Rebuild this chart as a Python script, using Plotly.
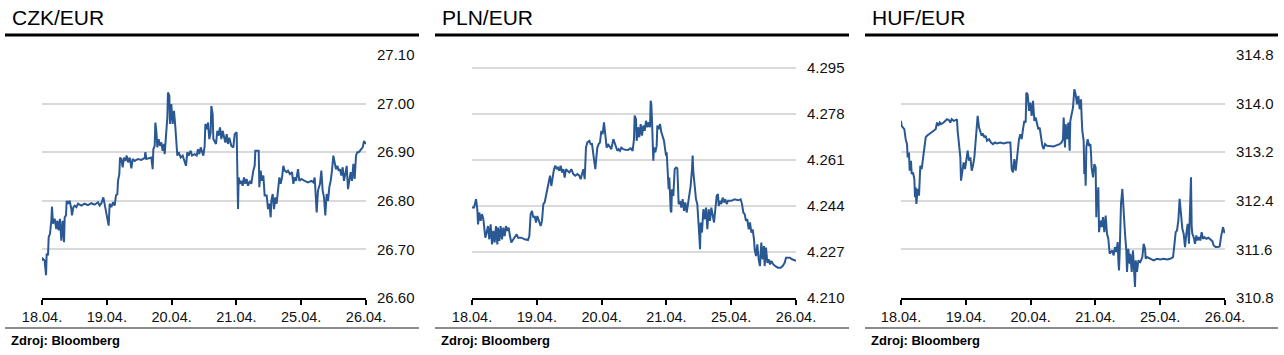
import plotly.graph_objects as go

# ---------------- data ----------------
day_labels = ["18.04.", "19.04.", "20.04.", "21.04.", "25.04.", "26.04."]
titles = ["CZK/EUR", "PLN/EUR", "HUF/EUR"]
source_text = "Zdroj: Bloomberg"

czk_x = [0.000, 0.010, 0.041, 0.062, 0.072, 0.093, 0.103, 0.123, 0.144, 0.154, 0.170, 0.195, 0.221, 0.237, 0.257,
         0.278, 0.298, 0.319, 0.340, 0.350, 0.370, 0.381, 0.401, 0.427, 0.453, 0.463, 0.484, 0.504, 0.530, 0.556,
         0.607, 0.658, 0.710, 0.761, 0.813, 0.864, 0.890, 0.916, 0.947, 0.967, 0.988, 1.008, 1.029, 1.044, 1.070,
         1.096, 1.121, 1.142, 1.163, 1.173, 1.193, 1.204, 1.224, 1.245, 1.265, 1.286, 1.307, 1.327, 1.353, 1.379,
         1.399, 1.430, 1.481, 1.533, 1.584, 1.595, 1.610, 1.687, 1.708, 1.718, 1.739, 1.749, 1.764, 1.780, 1.800,
         1.821, 1.842, 1.862, 1.883, 1.893, 1.914, 1.934, 1.944, 1.965, 1.975, 1.996, 2.016, 2.037, 2.058, 2.078,
         2.088, 2.109, 2.140, 2.171, 2.202, 2.222, 2.243, 2.263, 2.294, 2.315, 2.356, 2.387, 2.407, 2.428, 2.449,
         2.469, 2.490, 2.510, 2.521, 2.541, 2.562, 2.582, 2.603, 2.613, 2.634, 2.644, 2.665, 2.685, 2.706, 2.726,
         2.747, 2.767, 2.788, 2.809, 2.829, 2.850, 2.870, 2.891, 2.922, 2.953, 2.973, 3.004, 3.014, 3.025, 3.035,
         3.056, 3.076, 3.097, 3.117, 3.138, 3.158, 3.179, 3.210, 3.230, 3.261, 3.282, 3.292, 3.323, 3.344, 3.354,
         3.374, 3.395, 3.416, 3.436, 3.467, 3.488, 3.508, 3.529, 3.539, 3.560, 3.580, 3.601, 3.621, 3.642, 3.663,
         3.683, 3.704, 3.724, 3.745, 3.776, 3.796, 3.827, 3.858, 3.879, 3.899, 3.920, 3.951, 3.971, 4.002, 4.053,
         4.105, 4.156, 4.187, 4.208, 4.228, 4.239, 4.259, 4.290, 4.311, 4.331, 4.352, 4.372, 4.393, 4.414, 4.434,
         4.455, 4.475, 4.496, 4.516, 4.537, 4.558, 4.578, 4.599, 4.619, 4.640, 4.660, 4.681, 4.702, 4.722, 4.743,
         4.763, 4.784, 4.805, 4.825, 4.846, 4.866, 4.887, 4.907, 4.928, 4.949, 4.969, 4.990, 5.000]
czk_y = [26.677, 26.681, 26.677, 26.647, 26.691, 26.688, 26.725, 26.732, 26.759, 26.788, 26.753, 26.763, 26.742, 26.759, 26.739,
         26.763, 26.718, 26.759, 26.715, 26.766, 26.770, 26.800, 26.794, 26.800, 26.783, 26.770, 26.787, 26.790, 26.787, 26.794,
         26.790, 26.794, 26.791, 26.795, 26.792, 26.797, 26.790, 26.795, 26.807, 26.794, 26.773, 26.763, 26.749, 26.794, 26.787,
         26.797, 26.790, 26.811, 26.814, 26.841, 26.855, 26.889, 26.886, 26.869, 26.889, 26.882, 26.893, 26.879, 26.889, 26.867,
         26.886, 26.882, 26.886, 26.884, 26.888, 26.900, 26.886, 26.889, 26.865, 26.906, 26.913, 26.961, 26.944, 26.910, 26.927,
         26.913, 26.920, 26.903, 26.917, 26.896, 26.927, 26.971, 27.023, 27.016, 26.958, 26.999, 26.958, 26.985, 26.951, 26.920,
         26.893, 26.900, 26.889, 26.893, 26.882, 26.872, 26.900, 26.893, 26.903, 26.893, 26.896, 26.893, 26.906, 26.896, 26.910,
         26.900, 26.893, 26.913, 26.958, 26.947, 26.961, 26.927, 26.941, 26.995, 26.978, 26.927, 26.923, 26.917, 26.944, 26.934,
         26.951, 26.927, 26.944, 26.934, 26.920, 26.937, 26.917, 26.930, 26.913, 26.910, 26.937, 26.941, 26.838, 26.783, 26.848,
         26.835, 26.841, 26.831, 26.848, 26.835, 26.845, 26.831, 26.841, 26.835, 26.862, 26.872, 26.903, 26.903, 26.903, 26.828,
         26.862, 26.841, 26.852, 26.811, 26.811, 26.783, 26.794, 26.766, 26.800, 26.814, 26.783, 26.807, 26.794, 26.821, 26.848,
         26.835, 26.848, 26.872, 26.862, 26.859, 26.862, 26.855, 26.859, 26.835, 26.848, 26.841, 26.865, 26.841, 26.845, 26.841,
         26.838, 26.841, 26.838, 26.848, 26.807, 26.776, 26.821, 26.835, 26.862, 26.821, 26.807, 26.770, 26.814, 26.800, 26.828,
         26.841, 26.862, 26.893, 26.879, 26.865, 26.872, 26.862, 26.865, 26.852, 26.869, 26.841, 26.855, 26.872, 26.824, 26.848,
         26.859, 26.841, 26.876, 26.845, 26.893, 26.900, 26.900, 26.903, 26.906, 26.910, 26.923, 26.917, 26.917]

pln_x = [0.000, 0.031, 0.062, 0.082, 0.093, 0.113, 0.134, 0.154, 0.175, 0.195, 0.206, 0.226, 0.247, 0.267, 0.288,
         0.309, 0.329, 0.350, 0.370, 0.391, 0.401, 0.422, 0.442, 0.463, 0.484, 0.504, 0.525, 0.545, 0.566, 0.586,
         0.607, 0.638, 0.669, 0.689, 0.710, 0.761, 0.813, 0.864, 0.885, 0.905, 0.926, 0.947, 0.967, 0.988, 1.008,
         1.039, 1.060, 1.080, 1.101, 1.121, 1.142, 1.163, 1.183, 1.204, 1.224, 1.245, 1.265, 1.286, 1.307, 1.327,
         1.348, 1.368, 1.389, 1.409, 1.430, 1.450, 1.471, 1.502, 1.533, 1.564, 1.595, 1.626, 1.656, 1.677, 1.698,
         1.718, 1.739, 1.759, 1.780, 1.811, 1.831, 1.852, 1.872, 1.893, 1.903, 1.914, 1.934, 1.955, 1.975, 1.996,
         2.016, 2.037, 2.058, 2.078, 2.099, 2.130, 2.150, 2.181, 2.202, 2.222, 2.243, 2.263, 2.284, 2.305, 2.335,
         2.366, 2.407, 2.449, 2.479, 2.500, 2.510, 2.531, 2.541, 2.562, 2.582, 2.603, 2.623, 2.644, 2.665, 2.685,
         2.706, 2.726, 2.747, 2.757, 2.767, 2.778, 2.788, 2.798, 2.809, 2.829, 2.850, 2.860, 2.881, 2.901, 2.922,
         2.942, 2.963, 2.984, 2.994, 3.004, 3.014, 3.025, 3.035, 3.045, 3.056, 3.066, 3.076, 3.086, 3.107, 3.128,
         3.148, 3.169, 3.179, 3.189, 3.210, 3.230, 3.251, 3.272, 3.292, 3.313, 3.333, 3.354, 3.374, 3.395, 3.405,
         3.416, 3.436, 3.457, 3.477, 3.488, 3.498, 3.508, 3.519, 3.529, 3.549, 3.570, 3.591, 3.611, 3.632, 3.652,
         3.673, 3.693, 3.714, 3.735, 3.755, 3.776, 3.796, 3.807, 3.827, 3.848, 3.868, 3.889, 3.909, 3.930, 3.951,
         4.002, 4.053, 4.105, 4.146, 4.167, 4.187, 4.208, 4.228, 4.249, 4.270, 4.290, 4.311, 4.331, 4.352, 4.362,
         4.383, 4.403, 4.424, 4.444, 4.465, 4.486, 4.506, 4.516, 4.537, 4.558, 4.578, 4.599, 4.619, 4.650, 4.681,
         4.722, 4.763, 4.794, 4.825, 4.846, 4.877, 4.907, 4.938, 4.969, 5.000]
pln_y = [4.2434, 4.2434, 4.2465, 4.2428, 4.2372, 4.2416, 4.2385, 4.2410, 4.2391, 4.2354, 4.2323, 4.2342, 4.2366, 4.2317, 4.2372,
         4.2298, 4.2348, 4.2305, 4.2366, 4.2298, 4.2360, 4.2311, 4.2366, 4.2317, 4.2360, 4.2329, 4.2366, 4.2348, 4.2360, 4.2329,
         4.2305, 4.2317, 4.2329, 4.2335, 4.2323, 4.2323, 4.2317, 4.2314, 4.2329, 4.2410, 4.2422, 4.2397, 4.2403, 4.2379, 4.2403,
         4.2385, 4.2366, 4.2385, 4.2447, 4.2453, 4.2477, 4.2502, 4.2533, 4.2552, 4.2514, 4.2545, 4.2576, 4.2589, 4.2576, 4.2582,
         4.2570, 4.2589, 4.2564, 4.2576, 4.2545, 4.2576, 4.2570, 4.2564, 4.2576, 4.2558, 4.2552, 4.2558, 4.2552, 4.2539, 4.2558,
         4.2576, 4.2539, 4.2656, 4.2675, 4.2681, 4.2669, 4.2669, 4.2632, 4.2589, 4.2576, 4.2607, 4.2656, 4.2669, 4.2675, 4.2718,
         4.2706, 4.2749, 4.2700, 4.2656, 4.2669, 4.2656, 4.2650, 4.2687, 4.2669, 4.2656, 4.2644, 4.2650, 4.2644, 4.2656, 4.2650,
         4.2648, 4.2647, 4.2653, 4.2644, 4.2687, 4.2774, 4.2761, 4.2681, 4.2731, 4.2694, 4.2743, 4.2700, 4.2737, 4.2718, 4.2755,
         4.2731, 4.2749, 4.2731, 4.2829, 4.2817, 4.2755, 4.2687, 4.2607, 4.2656, 4.2638, 4.2663, 4.2737, 4.2724, 4.2743, 4.2712,
         4.2700, 4.2681, 4.2644, 4.2626, 4.2638, 4.2595, 4.2514, 4.2502, 4.2545, 4.2465, 4.2422, 4.2416, 4.2502, 4.2477, 4.2576,
         4.2582, 4.2579, 4.2514, 4.2447, 4.2459, 4.2434, 4.2465, 4.2422, 4.2453, 4.2416, 4.2447, 4.2477, 4.2514, 4.2576, 4.2626,
         4.2564, 4.2514, 4.2465, 4.2447, 4.2379, 4.2366, 4.2329, 4.2280, 4.2379, 4.2342, 4.2428, 4.2391, 4.2434, 4.2354, 4.2428,
         4.2385, 4.2434, 4.2403, 4.2379, 4.2428, 4.2477, 4.2484, 4.2440, 4.2459, 4.2447, 4.2471, 4.2453, 4.2465, 4.2447, 4.2459,
         4.2459, 4.2465, 4.2461, 4.2465, 4.2447, 4.2416, 4.2410, 4.2385, 4.2391, 4.2354, 4.2379, 4.2342, 4.2354, 4.2317, 4.2280,
         4.2255, 4.2298, 4.2243, 4.2218, 4.2305, 4.2243, 4.2292, 4.2218, 4.2286, 4.2230, 4.2243, 4.2224, 4.2237, 4.2224, 4.2218,
         4.2212, 4.2212, 4.2218, 4.2230, 4.2249, 4.2249, 4.2249, 4.2243, 4.2240, 4.2237]

huf_x = [0.000, 0.010, 0.031, 0.051, 0.072, 0.093, 0.103, 0.123, 0.134, 0.154, 0.165, 0.185, 0.206, 0.216, 0.226,
         0.237, 0.257, 0.278, 0.288, 0.298, 0.319, 0.340, 0.360, 0.381, 0.401, 0.432, 0.473, 0.504, 0.535, 0.556,
         0.576, 0.597, 0.617, 0.658, 0.689, 0.710, 0.741, 0.761, 0.782, 0.813, 0.844, 0.864, 0.874, 0.895, 0.916,
         0.926, 0.947, 0.967, 0.988, 1.008, 1.029, 1.049, 1.070, 1.091, 1.111, 1.132, 1.152, 1.173, 1.183, 1.204,
         1.224, 1.245, 1.265, 1.286, 1.307, 1.327, 1.358, 1.389, 1.420, 1.451, 1.481, 1.533, 1.584, 1.636, 1.687,
         1.708, 1.728, 1.749, 1.770, 1.790, 1.800, 1.821, 1.842, 1.862, 1.883, 1.903, 1.924, 1.934, 1.955, 1.975,
         1.996, 2.016, 2.037, 2.058, 2.078, 2.099, 2.119, 2.140, 2.160, 2.181, 2.202, 2.222, 2.253, 2.305, 2.356,
         2.407, 2.449, 2.479, 2.500, 2.510, 2.531, 2.541, 2.562, 2.582, 2.603, 2.613, 2.634, 2.654, 2.675, 2.695,
         2.716, 2.737, 2.757, 2.778, 2.788, 2.798, 2.819, 2.829, 2.840, 2.850, 2.860, 2.881, 2.901, 2.922, 2.932,
         2.942, 2.963, 2.984, 3.004, 3.014, 3.025, 3.035, 3.045, 3.056, 3.076, 3.097, 3.117, 3.138, 3.158, 3.179,
         3.199, 3.220, 3.240, 3.261, 3.282, 3.302, 3.323, 3.344, 3.354, 3.364, 3.374, 3.395, 3.416, 3.436, 3.457,
         3.477, 3.488, 3.508, 3.529, 3.539, 3.560, 3.580, 3.591, 3.611, 3.622, 3.642, 3.663, 3.693, 3.724, 3.745,
         3.766, 3.776, 3.796, 3.848, 3.899, 3.951, 4.002, 4.053, 4.105, 4.156, 4.198, 4.218, 4.239, 4.259, 4.280,
         4.300, 4.321, 4.342, 4.362, 4.383, 4.403, 4.424, 4.444, 4.465, 4.475, 4.486, 4.496, 4.516, 4.537, 4.558,
         4.578, 4.599, 4.619, 4.640, 4.660, 4.681, 4.712, 4.743, 4.774, 4.805, 4.825, 4.856, 4.887, 4.918, 4.938,
         4.959, 4.969, 4.990, 5.000]
huf_y = [313.716, 313.634, 313.606, 313.579, 313.415, 313.333, 313.114, 313.196, 312.895, 313.060, 312.841, 312.868, 312.759, 312.458, 312.622,
         312.349, 312.595, 312.485, 312.731, 312.977, 312.923, 313.087, 313.251, 313.442, 313.470, 313.497, 313.524, 313.552, 313.579, 313.688,
         313.634, 313.688, 313.661, 313.688, 313.716, 313.743, 313.727, 313.688, 313.743, 313.716, 313.727, 313.743, 313.552, 313.360, 313.114,
         312.731, 312.895, 313.032, 312.923, 313.114, 313.224, 313.060, 313.114, 312.895, 312.977, 313.114, 313.388, 313.634, 313.798, 313.606,
         313.524, 313.470, 313.508, 313.442, 313.470, 313.388, 313.415, 313.360, 313.333, 313.360, 313.344, 313.360, 313.344, 313.360, 313.360,
         312.923, 312.868, 313.087, 312.895, 313.114, 313.306, 313.415, 313.497, 313.415, 313.579, 313.716, 313.688, 314.180, 314.153, 313.880,
         314.016, 313.798, 314.044, 313.716, 313.770, 313.688, 313.579, 313.606, 313.415, 313.306, 313.251, 313.333, 313.306, 313.306, 313.295,
         313.317, 313.333, 313.360, 313.415, 313.770, 313.278, 313.661, 313.415, 313.688, 313.224, 313.716, 313.852, 313.934, 314.235, 314.153,
         313.989, 314.126, 313.907, 314.071, 313.770, 313.552, 313.388, 312.841, 313.005, 312.649, 313.278, 313.415, 313.306, 313.333, 313.196,
         312.950, 312.786, 313.005, 312.950, 312.130, 312.567, 312.403, 312.622, 311.884, 312.075, 311.966, 312.130, 311.884, 312.157, 311.857,
         311.775, 311.528, 311.556, 311.583, 311.501, 311.638, 311.556, 311.720, 311.419, 311.255, 311.528, 312.349, 312.595, 312.185, 311.857,
         311.583, 311.228, 311.610, 311.364, 311.528, 311.228, 311.583, 311.310, 310.982, 311.419, 311.228, 311.419, 311.392, 311.474, 311.692,
         311.610, 311.446, 311.474, 311.446, 311.419, 311.446, 311.436, 311.446, 311.436, 311.446, 311.474, 311.665, 311.884, 311.911, 312.075,
         312.431, 312.157, 311.939, 311.857, 311.638, 311.857, 312.021, 311.692, 312.239, 312.786, 311.966, 311.857, 311.802, 311.692, 311.829,
         311.747, 311.802, 311.747, 311.884, 311.775, 311.802, 311.775, 311.791, 311.758, 311.736, 311.665, 311.638, 311.638, 311.649, 311.802,
         311.884, 311.966, 311.884, 311.884]

czk_ticks = [26.60, 26.70, 26.80, 26.90, 27.00, 27.10]
pln_ticks = [4.210, 4.227, 4.244, 4.261, 4.278, 4.295]
huf_ticks = [310.8, 311.6, 312.4, 313.2, 314.0, 314.8]

# ---------------- styling / layout ----------------
W, H = 1284, 355
FONT = "Liberation Sans, Arial, sans-serif"
LINE_COLOR = "#2a5893"

panels = [
    dict(x=czk_x, y=czk_y, ticks=czk_ticks, fmt=".2f", rng=[26.60, 27.10], left=5, right=419, px0=42, px1=366),
    dict(x=pln_x, y=pln_y, ticks=pln_ticks, fmt=".3f", rng=[4.210, 4.2998], left=435, right=849, px0=472, px1=796),
    dict(x=huf_x, y=huf_y, ticks=huf_ticks, fmt=".1f", rng=[310.8, 314.8], left=865, right=1278, px0=901, px1=1225),
]

fig = go.Figure()
layout = dict(
    width=W, height=H, margin=dict(l=0, r=0, t=0, b=0, pad=0, autoexpand=False),
    paper_bgcolor="white", plot_bgcolor="white", showlegend=False,
    font=dict(family=FONT, color="#111111"),
    shapes=[], annotations=[],
)

y_top, y_bot = 55, 298
for i, (p, title) in enumerate(zip(panels, titles), start=1):
    xa = "x" if i == 1 else f"x{i}"
    ya = "y" if i == 1 else f"y{i}"
    fig.add_trace(go.Scatter(x=p["x"], y=p["y"], mode="lines", xaxis=xa, yaxis=ya,
                             line=dict(color=LINE_COLOR, width=2), hoverinfo="skip"))
    xkey = "xaxis" if i == 1 else f"xaxis{i}"
    ykey = "yaxis" if i == 1 else f"yaxis{i}"
    layout[xkey] = dict(
        domain=[p["px0"] / W, p["px1"] / W], anchor=ya, range=[0, 5], automargin=False,
        tickmode="array", tickvals=list(range(len(day_labels))), ticktext=day_labels,
        showline=True, linecolor="black", linewidth=2,
        ticks="outside", ticklen=5, tickwidth=2, tickcolor="black",
        showgrid=False, zeroline=False, fixedrange=True,
        tickfont=dict(family=FONT, size=14.5, color="#111111"),
    )
    layout[ykey] = dict(
        domain=[1 - y_bot / H, 1 - y_top / H], anchor=xa, side="right", range=p["rng"], automargin=False,
        tickmode="array", tickvals=p["ticks"], tickformat=p["fmt"],
        showgrid=True, gridcolor="#d9d9d9", gridwidth=2, zeroline=False, showline=False,
        ticks="", ticklabelstandoff=10, fixedrange=True,
        tickfont=dict(family=FONT, size=15, color="#111111"),
    )
    # title
    layout["annotations"].append(dict(
        x=(p["left"] + 5) / W, y=1 - 17 / H, xref="paper", yref="paper",
        xanchor="left", yanchor="middle", text=title, showarrow=False,
        font=dict(family=FONT, size=21, color="black")))
    # source
    layout["annotations"].append(dict(
        x=(p["left"] + 4) / W, y=1 - 340 / H, xref="paper", yref="paper",
        xanchor="left", yanchor="middle", text="<b>" + source_text + "</b>", showarrow=False,
        font=dict(family=FONT, size=13, color="black")))
    # thick black rule under title
    layout["shapes"].append(dict(type="line", xref="paper", yref="paper",
                                 x0=p["left"] / W, x1=p["right"] / W, y0=1 - 35 / H, y1=1 - 35 / H,
                                 line=dict(color="black", width=3)))
    # grey rule above source
    layout["shapes"].append(dict(type="line", xref="paper", yref="paper",
                                 x0=p["left"] / W, x1=p["right"] / W, y0=1 - 328 / H, y1=1 - 328 / H,
                                 line=dict(color="#8c8c8c", width=2)))

fig.update_layout(**layout)
fig.write_html("out.html")
